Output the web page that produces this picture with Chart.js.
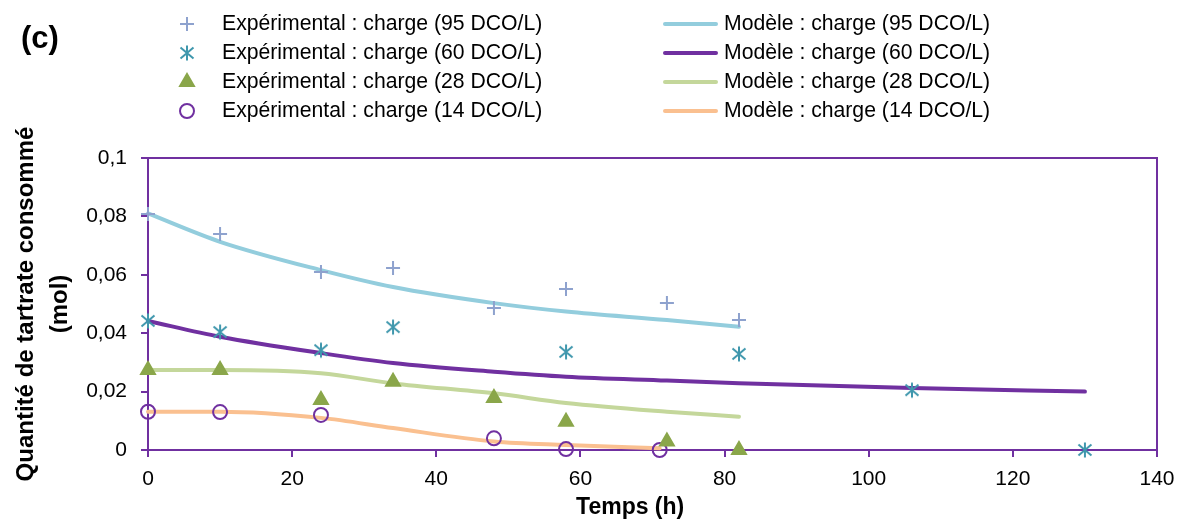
<!DOCTYPE html>
<html>
<head>
<meta charset="utf-8">
<script src="https://cdn.jsdelivr.net/npm/chart.js@4/dist/chart.umd.min.js"></script>
<style>
  html, body { margin: 0; padding: 0; background: #fff; }
  #wrap { width: 1179px; height: 522px; position: relative; }
</style>
</head>
<body>
<div id="wrap"><canvas id="myChart"></canvas></div>
<script>
// données
var temps95 = [0, 10, 24, 34, 48, 58, 72, 82];
var exp95 = [0.0808, 0.074, 0.061, 0.0623, 0.0486, 0.0551, 0.0503, 0.0445];
var modele95 = [0.081, 0.0713, 0.0616, 0.0558, 0.0503, 0.0474, 0.0445, 0.0422];

var tempsExp60 = [0, 10, 24, 34, 58, 82, 106, 130];
var exp60 = [0.0442, 0.0404, 0.0342, 0.0421, 0.0336, 0.0329, 0.0205, 0];
var tempsModele60 = [0, 10, 24, 34, 48, 58, 72, 82, 106, 130];
var modele60 = [0.0442, 0.0388, 0.0332, 0.0298, 0.0268, 0.0251, 0.0238, 0.0229, 0.0212, 0.02];

var temps28 = [0, 10, 24, 34, 48, 58, 72, 82];
var exp28 = [0.0274, 0.0274, 0.0171, 0.0234, 0.0178, 0.0097, 0.0029, 0];
var modele28 = [0.0274, 0.0274, 0.0263, 0.0228, 0.0194, 0.0161, 0.0131, 0.0114];

var tempsExp14 = [0, 10, 24, 48, 58, 71];
var exp14 = [0.0131, 0.013, 0.012, 0.004, 0.0003, 0];
var tempsModele14 = [0, 10, 24, 34, 48, 58, 71];
var modele14 = [0.0131, 0.0131, 0.011, 0.0075, 0.0029, 0.0017, 0.0006];

var xTicks = [0, 20, 40, 60, 80, 100, 120, 140];
var yTicks = [0, 0.02, 0.04, 0.06, 0.08, 0.1];

var violet = '#7030A0';
var police = 'Liberation Sans, Arial, sans-serif';

function pts(xs, ys){
  var out = [];
  for (var i = 0; i < xs.length; i++) out.push({x: xs[i], y: ys[i]});
  return out;
}

// astérisque d'Excel : un X avec une barre verticale
function asterisque(couleur){
  var c = document.createElement('canvas');
  c.width = 18; c.height = 18;
  var g = c.getContext('2d');
  g.strokeStyle = couleur;
  g.lineWidth = 2;
  g.beginPath();
  g.moveTo(2.5, 3.5); g.lineTo(15.5, 14.5);
  g.moveTo(15.5, 3.5); g.lineTo(2.5, 14.5);
  g.moveTo(9, 1.5); g.lineTo(9, 16.5);
  g.stroke();
  return c;
}

function nuage(label, xs, ys, style, couleur, rayon, plein){
  return {
    label: label, data: pts(xs, ys), showLine: false, order: 0, clip: false,
    pointStyle: style, pointRadius: rayon, pointHoverRadius: rayon,
    pointBorderColor: couleur, pointBackgroundColor: plein ? couleur : 'rgba(0,0,0,0)',
    pointBorderWidth: 2
  };
}
function courbe(label, xs, ys, couleur){
  return {
    label: label, data: pts(xs, ys), showLine: true, order: 1, clip: false,
    borderColor: couleur, borderWidth: 4, pointRadius: 0, pointHoverRadius: 0,
    cubicInterpolationMode: 'monotone', borderCapStyle: 'round', fill: false
  };
}

var datasets = [
  nuage('Expérimental : charge (95 DCO/L)', temps95, exp95, 'cross', '#8EA2CE', 7, false),
  nuage('Expérimental : charge (60 DCO/L)', tempsExp60, exp60, asterisque('#3F97AD'), '#3F97AD', 8, false),
  nuage('Expérimental : charge (28 DCO/L)', temps28, exp28, 'triangle', '#8AA64A', 8, true),
  nuage('Expérimental : charge (14 DCO/L)', tempsExp14, exp14, 'circle', violet, 7, false),
  courbe('Modèle : charge (95 DCO/L)', temps95, modele95, '#93CDDD'),
  courbe('Modèle : charge (60 DCO/L)', tempsModele60, modele60, violet),
  courbe('Modèle : charge (28 DCO/L)', temps28, modele28, '#C4D79B'),
  courbe('Modèle : charge (14 DCO/L)', tempsModele14, modele14, '#FAC090')
];

// légende sur deux colonnes + cadre + (c)
var legendeCadre = {
  id: 'legendeCadre',
  afterDraw: function(chart){
    var ctx = chart.ctx;
    var a = chart.chartArea;
    ctx.save();
    // cadre violet haut et droite
    ctx.strokeStyle = violet;
    ctx.lineWidth = 2;
    ctx.beginPath();
    ctx.moveTo(a.left, a.top);
    ctx.lineTo(a.right, a.top);
    ctx.lineTo(a.right, a.bottom);
    ctx.stroke();

    ctx.fillStyle = '#000';
    ctx.font = 'bold 31px ' + police;
    ctx.textBaseline = 'middle';
    ctx.fillText('(c)', 21, 39);

    ctx.font = '21.2px ' + police;
    var lignes = [24, 53, 82, 111];
    for (var i = 0; i < 4; i++){
      var d = chart.data.datasets[i];
      ctx.strokeStyle = d.pointBorderColor;
      ctx.fillStyle = d.pointBackgroundColor;
      ctx.lineWidth = d.pointBorderWidth;
      Chart.helpers.drawPoint(ctx, {pointStyle: d.pointStyle, radius: d.pointRadius, rotation: 0, borderWidth: d.pointBorderWidth}, 187, lignes[i]);
      ctx.fillStyle = '#000';
      ctx.fillText(d.label, 222, lignes[i]);

      var m = chart.data.datasets[i + 4];
      ctx.strokeStyle = m.borderColor;
      ctx.lineWidth = 4;
      ctx.lineCap = 'round';
      ctx.beginPath();
      ctx.moveTo(665, lignes[i]);
      ctx.lineTo(716, lignes[i]);
      ctx.stroke();
      ctx.fillText(m.label, 724, lignes[i]);
    }
    ctx.restore();
  }
};

new Chart(document.getElementById('myChart'), {
  type: 'scatter',
  data: { datasets: datasets },
  plugins: [legendeCadre],
  options: {
    responsive: true,
    maintainAspectRatio: false,
    animation: false,
    layout: { padding: { top: 158, right: 22, left: 0, bottom: 0 } },
    plugins: { legend: { display: false }, tooltip: { enabled: false } },
    scales: {
      x: {
        type: 'linear', min: 0, max: 140,
        afterBuildTicks: function(s){ s.ticks = xTicks.map(function(v){ return {value: v}; }); },
        afterFit: function(s){ s.height = 72; s.paddingRight = 0; s.paddingLeft = 0; },
        grid: { display: true, drawOnChartArea: false, color: violet, lineWidth: 2, tickLength: 7, tickColor: violet },
        border: { color: violet, width: 2 },
        ticks: { color: '#000', font: { family: police, size: 21 }, padding: 10, maxRotation: 0 },
        // espaces en fin de texte : le titre est un peu à gauche du centre dans l'original
        title: { display: true, text: 'Temps (h)       ', color: '#000', font: { family: police, size: 23, weight: 'bold', lineHeight: 1.2 }, padding: { top: 0, bottom: 1 } }
      },
      y: {
        type: 'linear', min: 0, max: 0.1,
        afterBuildTicks: function(s){ s.ticks = yTicks.map(function(v){ return {value: v}; }); },
        afterFit: function(s){ s.width = 148; s.paddingTop = 0; s.paddingBottom = 0; },
        grid: { display: true, drawOnChartArea: false, color: violet, lineWidth: 2, tickLength: 7, tickColor: violet },
        border: { color: violet, width: 2 },
        ticks: {
          color: '#000', font: { family: police, size: 21 }, padding: 14,
          callback: function(v){ return String(Math.round(v * 100) / 100).replace('.', ','); }
        },
        title: { display: true, text: ['Quantité de tartrate consommé', '(mol)'], color: '#000', font: { family: police, size: 24, weight: 'bold', lineHeight: '34px' }, padding: { top: 9, bottom: 0 } }
      }
    }
  }
});
</script>
</body>
</html>
